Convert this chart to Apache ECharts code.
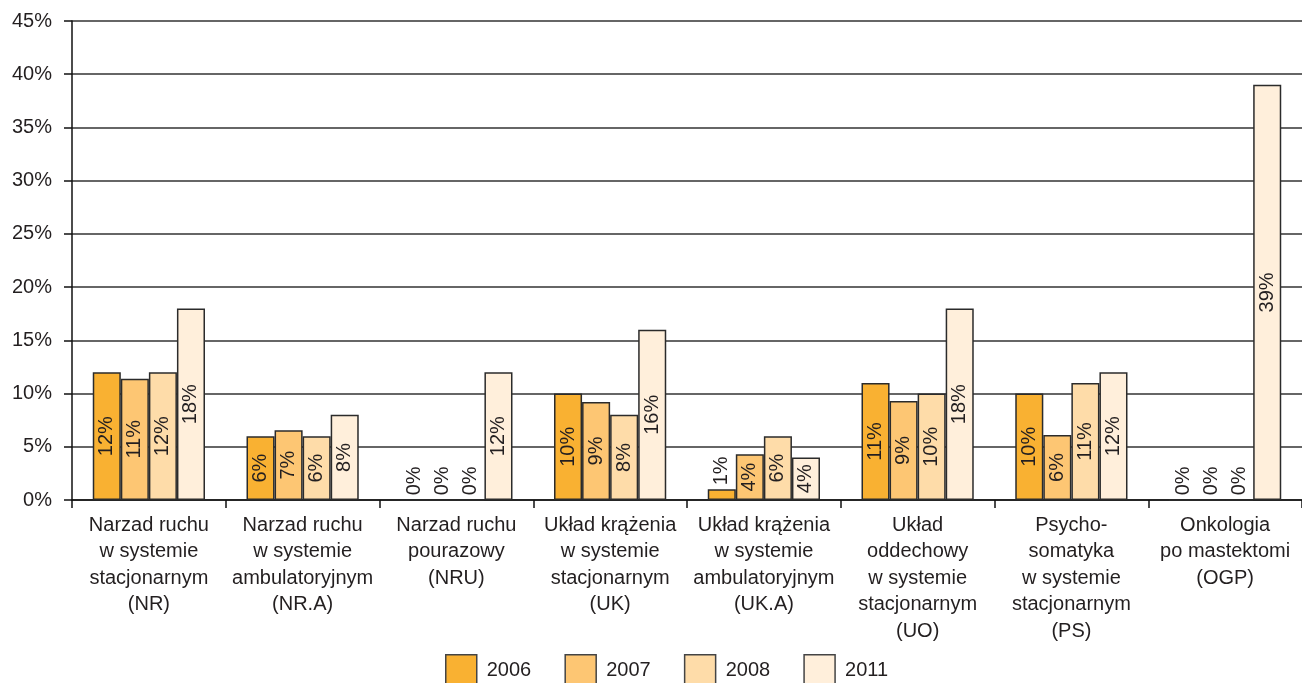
<!DOCTYPE html>
<html>
<head>
<meta charset="utf-8">
<script src="https://cdn.jsdelivr.net/npm/echarts@6/dist/echarts.min.js"></script>
<style>
html,body{margin:0;padding:0;background:#fff;}
#chart{width:1302px;height:683px;}
</style>
</head>
<body>
<div id="chart"></div>
<script>
var categories = [
  "Narzad ruchu\nw systemie\nstacjonarnym\n(NR)",
  "Narzad ruchu\nw systemie\nambulatoryjnym\n(NR.A)",
  "Narzad ruchu\npourazowy\n(NRU)",
  "Układ krążenia\nw systemie\nstacjonarnym\n(UK)",
  "Układ krążenia\nw systemie\nambulatoryjnym\n(UK.A)",
  "Układ\noddechowy\nw systemie\nstacjonarnym\n(UO)",
  "Psycho-\nsomatyka\nw systemie\nstacjonarnym\n(PS)",
  "Onkologia\npo mastektomi\n(OGP)"
];
var years = ["2006", "2007", "2008", "2011"];
var values2006 = [12, 6, 0, 10, 1, 11, 10, 0];
var values2007 = [11.4, 6.55, 0, 9.2, 4.3, 9.3, 6.1, 0];
var values2008 = [12, 6, 0, 8, 6, 10, 11, 0];
var values2011 = [18, 8, 12, 16, 4, 18, 12, 39];
var yTicks = [0, 5, 10, 15, 20, 25, 30, 35, 40, 45];

var colors = ["#F9B132", "#FDC673", "#FEDCA9", "#FFEFDB"];
var FONT = "'Liberation Sans', Arial, sans-serif";
var TXT = "#231f20";
var FS = 20;

function makeData(arr) {
  return arr.map(function (v) {
    if (v < 2) {
      return {
        value: v,
        label: { position: "top", rotate: 90, align: "left", verticalAlign: "middle", distance: 4 }
      };
    }
    return { value: v };
  });
}

var allSeries = [values2006, values2007, values2008, values2011].map(function (arr, i) {
  return {
    name: years[i],
    type: "bar",
    data: makeData(arr),
    barGap: "0%",
    barCategoryGap: "27%",
    itemStyle: { color: colors[i], borderColor: "#2b2b2b", borderWidth: 1.5 },
    label: {
      show: true,
      position: "inside",
      rotate: 90,
      color: TXT,
      fontSize: FS,
      fontFamily: FONT,
      formatter: function (p) { return Math.round(p.value) + "%"; }
    },
    emphasis: { disabled: true }
  };
});

var chart = echarts.init(document.getElementById("chart"));
chart.setOption({
  animation: false,
  color: colors,
  grid: { left: 72, right: 0, top: 21, bottom: 183, containLabel: false },
  legend: {
    top: 654,
    left: 445,
    padding: 0,
    itemWidth: 31,
    itemHeight: 32,
    itemGap: 33.2,
    icon: "rect",
    data: years,
    itemStyle: { borderColor: "#444", borderWidth: 1.5 },
    textStyle: { color: TXT, fontSize: FS, fontFamily: FONT, padding: [0, 0, 0, 5] }
  },
  xAxis: {
    type: "category",
    data: categories,
    boundaryGap: true,
    axisLine: { show: true, lineStyle: { color: "#111", width: 1.5 } },
    axisTick: { show: true, length: 8, inside: false, lineStyle: { color: "#111", width: 1.5 } },
    axisLabel: {
      interval: 0,
      margin: 12,
      color: TXT,
      fontSize: FS,
      fontFamily: FONT,
      lineHeight: 26.5,
      align: "center"
    },
    splitLine: { show: false }
  },
  yAxis: {
    type: "value",
    min: yTicks[0],
    max: yTicks[yTicks.length - 1],
    interval: 5,
    axisLine: { show: true, lineStyle: { color: "#111", width: 1.5 } },
    axisTick: { show: true, length: 8, lineStyle: { color: "#111", width: 1.5 } },
    axisLabel: {
      margin: 20,
      color: TXT,
      fontSize: FS,
      fontFamily: FONT,
      formatter: function (v) { return v + "%"; }
    },
    splitLine: { show: true, lineStyle: { color: "#333", width: 1.5 } }
  },
  series: allSeries
});
</script>
</body>
</html>
